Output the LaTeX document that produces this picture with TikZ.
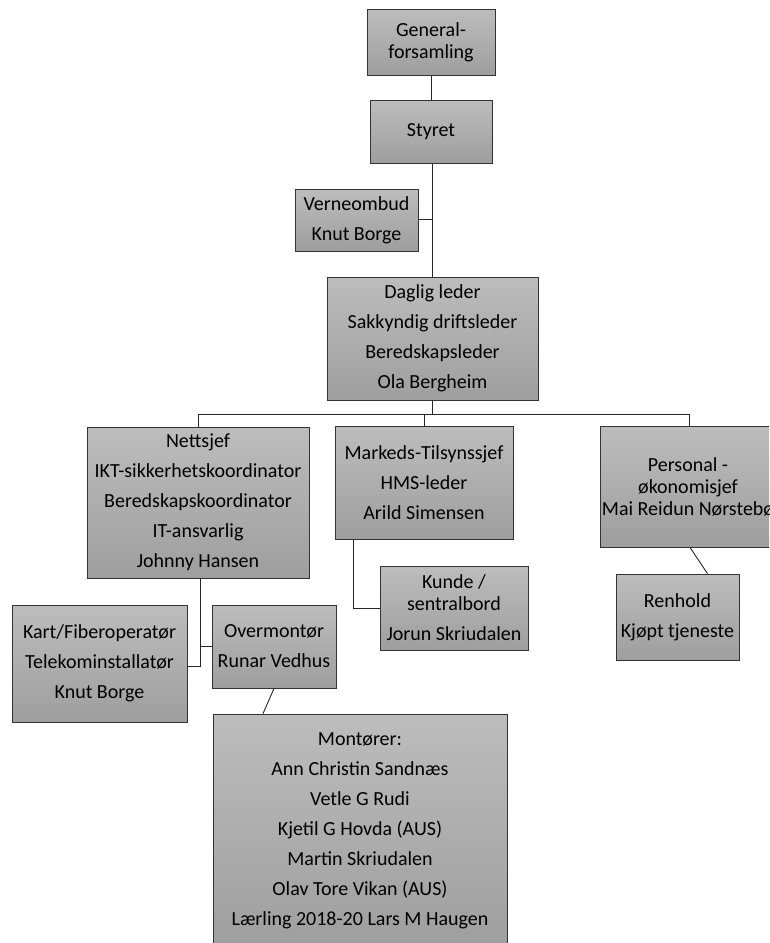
\documentclass[tikz,border=0pt]{standalone}
\usepackage{fontspec}
\setmainfont{Carlito}
\begin{document}
\begin{tikzpicture}[x=1pt,y=-1pt,
  orgbox/.style={draw=black!80, line width=0.8pt, top color=black!26, bottom color=black!38,
    align=center, inner sep=0pt, text=black, font=\fontsize{20}{30}\selectfont},
  conn/.style={draw=black!85, line width=0.9pt}]
\clip (0,0) rectangle (769,943);
\useasboundingbox (0,0) rectangle (769,943);
\fill[white] (0,0) rectangle (769,943);

\node[orgbox, minimum width=128pt, minimum height=66pt] (gen) at (431,42) {General-\\[-8pt]forsamling};
\node[orgbox, minimum width=122pt, minimum height=63pt] (sty) at (431,131.5) {Styret};
\node[orgbox, minimum width=123pt, minimum height=62pt] (vern) at (356.5,220) {Verneombud\\Knut Borge};
\node[orgbox, minimum width=211pt, minimum height=123pt] (dag) at (432.5,338.5) {Daglig leder\\Sakkyndig driftsleder\\Beredskapsleder\\Ola Bergheim};
\node[orgbox, minimum width=222pt, minimum height=151pt] (net) at (198,502.5) {Nettsjef\\IKT-sikkerhetskoordinator\\Beredskapskoordinator\\IT-ansvarlig\\Johnny Hansen};
\node[orgbox, minimum width=178pt, minimum height=113pt] (mark) at (424,482.5) {Markeds-Tilsynssjef\\HMS-leder\\Arild Simensen};
\node[orgbox, minimum width=176pt, minimum height=121pt] (pers) at (688,486.5) {Personal -\\[-8pt]økonomisjef\\[-8pt]Mai Reidun Nørstebø};
\node[orgbox, minimum width=148pt, minimum height=84pt] (kunde) at (454,608) {Kunde /\\[-8pt]sentralbord\\Jorun Skriudalen};
\node[orgbox, minimum width=123pt, minimum height=86pt] (ren) at (677.5,617) {Renhold\\Kjøpt tjeneste};
\node[orgbox, minimum width=175pt, minimum height=117pt] (kart) at (99.5,663.5) {Kart/Fiberoperatør\\Telekominstallatør\\Knut Borge};
\node[orgbox, minimum width=124pt, minimum height=83pt] (over) at (274,646.5) {Overmontør\\Runar Vedhus};
\node[orgbox, minimum width=294pt, minimum height=234pt] (mont) at (360,831) {Montører:\\Ann Christin Sandnæs\\Vetle G Rudi\\Kjetil G Hovda (AUS)\\Martin Skriudalen\\Olav Tore Vikan (AUS)\\Lærling 2018-20 Lars M Haugen};

% connectors
\draw[conn] (gen.south) -- (gen.south |- sty.north);
\draw[conn] ([xshift=1pt]sty.south) -- ([xshift=1pt]sty.south |- dag.north);
\draw[conn] ([yshift=1pt]vern.east) -- ([yshift=1pt]vern.east -| dag.north);
\coordinate (bus) at ([yshift=-14pt]dag.south);
\draw[conn] (dag.south) -- (bus);
\draw[conn] (bus) -| (net.north);
\draw[conn] (bus) -| (mark.north);
\draw[conn] (bus) -| ([xshift=1pt]pers.north);
\draw[conn] ([xshift=-71pt]mark.south) |- (kunde.west);
\draw[conn] ([xshift=2pt]pers.south) -- ([xshift=30pt]ren.north);
\draw[conn] ([xshift=2pt]net.south) |- (over.west);
\draw[conn] ([xshift=2pt]net.south) |- ([yshift=-3pt]kart.east);
\draw[conn] (over.south) -- ([xshift=-97pt]mont.north);
\end{tikzpicture}
\end{document}
